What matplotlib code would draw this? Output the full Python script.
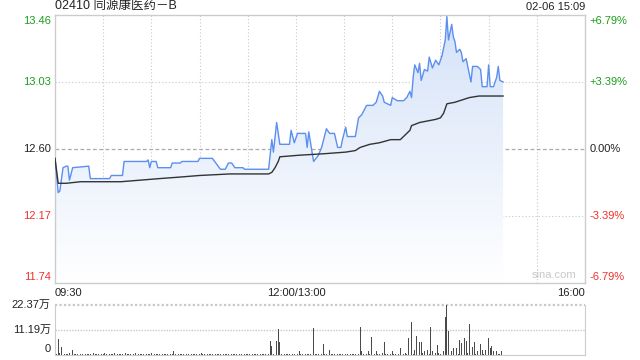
import matplotlib
matplotlib.use("Agg")
import matplotlib.pyplot as plt
import numpy as np

plt.rcParams["font.family"] = ["Liberation Sans", "Noto Sans CJK SC", "DejaVu Sans"]

TITLE = "02410 同源康医药－B"
STAMP = "02-06 15:09"
PREV_CLOSE = 12.60
PRICE_TICKS = [11.74, 12.17, 12.60, 13.03, 13.46]
PCT_LABELS = ["-6.79%", "-3.39%", "0.00%", "+3.39%", "+6.79%"]
TIME_LABELS = ["09:30", "12:00/13:00", "16:00"]
VOL_TICK_LABELS = ["0", "11.19万", "22.37万"]
VOL_MAX = 22.37

# minutes since 09:30 (lunch break removed), price
price_min = [0, 2, 3, 5, 7, 8, 9, 11, 21, 22, 34, 35, 42, 43, 57, 58, 59, 60, 63, 64,
             72, 73, 78, 79, 89, 90, 98, 103, 106, 108, 110, 112, 117, 118, 133, 135, 136,
             138, 140, 146, 147, 149, 151, 156, 157, 158, 161, 164, 166, 169, 171, 174,
             176, 178, 179, 181, 182, 187, 188, 189, 191, 194, 196, 198, 200, 202, 204,
             205, 209, 210, 213, 217, 219, 221, 222, 223, 224, 226, 227, 228, 230, 232,
             233, 235, 237, 239, 241, 243, 244, 245, 247, 248, 249, 250, 252, 253, 254,
             256, 257, 259, 260, 263, 265, 266, 269, 270, 271, 273, 275, 276, 277, 279]
price = [12.54, 12.32, 12.33, 12.48, 12.49, 12.49, 12.40, 12.48, 12.49, 12.41, 12.41,
         12.43, 12.43, 12.52, 12.52, 12.53, 12.48, 12.52, 12.52, 12.48, 12.48, 12.51,
         12.51, 12.52, 12.52, 12.54, 12.54, 12.47, 12.47, 12.51, 12.51, 12.48, 12.48,
         12.47, 12.47, 12.66, 12.58, 12.77, 12.63, 12.63, 12.72, 12.64, 12.70, 12.70,
         12.61, 12.71, 12.52, 12.56, 12.61, 12.73, 12.70, 12.70, 12.61, 12.61, 12.66,
         12.74, 12.68, 12.68, 12.74, 12.80, 12.82, 12.88, 12.88, 12.88, 12.90, 12.97,
         12.94, 12.90, 12.88, 12.93, 12.91, 12.91, 12.93, 12.97, 12.93, 13.06, 13.14,
         13.09, 13.15, 13.04, 13.11, 13.10, 13.19, 13.12, 13.17, 13.14, 13.20, 13.30,
         13.45, 13.30, 13.40, 13.32, 13.29, 13.22, 13.24, 13.22, 13.16, 13.18, 13.13,
         13.03, 13.13, 13.13, 13.11, 13.00, 13.00, 13.14, 13.00, 13.00, 13.06, 13.13,
         13.04, 13.03]

avg_min = [0, 2, 7, 16, 41, 53, 65, 78, 90, 109, 133, 135, 137, 139, 140, 152, 168,
           181, 187, 190, 196, 202, 209, 215, 218, 221, 222, 227, 232, 237, 240, 242,
           244, 249, 255, 258, 264, 279]
avg_price = [12.54, 12.38, 12.38, 12.39, 12.39, 12.40, 12.41, 12.42, 12.43, 12.44,
             12.44, 12.45, 12.48, 12.52, 12.55, 12.56, 12.57, 12.58, 12.59, 12.61,
             12.63, 12.64, 12.66, 12.66, 12.69, 12.72, 12.75, 12.77, 12.78, 12.79,
             12.80, 12.83, 12.89, 12.90, 12.92, 12.93, 12.94, 12.94]

# volume per minute, in 万
volume = [
    1.2, 0.5, 7.2, 0.8, 3.6, 3.1, 0.6, 0.4, 0.5, 0.7, 0.4, 2.2, 0.6, 0.5, 0.4, 0.5, 0.3, 0.6, 0.4, 0.5,
    0.3, 0.6, 0.5, 0.4, 0.7, 0.3, 0.5, 0.4, 0.6, 0.3, 0.5, 0.8, 0.4, 0.3, 0.6, 0.5, 0.4, 0.7, 0.3, 0.5,
    0.4, 0.6, 0.3, 0.5, 0.8, 0.4, 0.6, 0.3, 0.5, 0.4, 0.7, 0.5, 0.3, 0.6, 0.4, 0.5, 0.3, 0.6, 0.4, 0.5,
    0.7, 0.4, 0.5, 0.3, 0.6, 0.4, 1.8, 0.5, 0.4, 0.6, 0.3, 0.5, 0.4, 0.6, 1.8, 0.5, 0.4, 0.3, 0.6, 0.5,
    0.4, 0.7, 0.3, 0.5, 0.6, 0.4, 0.5, 0.3, 0.6, 0.4, 0.5, 0.7, 0.3, 0.5, 0.4, 0.6, 0.3, 0.5, 0.4, 0.6,
    0.5, 0.3, 0.6, 0.4, 0.7, 0.5, 0.3, 0.6, 0.4, 2.2, 0.5, 0.4, 0.6, 0.3, 0.5, 0.4, 0.6, 0.3, 0.5, 0.4,
    0.6, 0.3, 0.5, 0.4, 0.6, 0.5, 0.3, 0.4, 0.6, 0.3, 0.5, 0.4, 0.6, 0.5, 6.3, 4.0, 0.5, 10.3, 6.3, 11.6,
    5.8, 0.4, 0.6, 0.3, 0.5, 0.4, 0.3, 0.6, 0.4, 0.5, 0.3, 0.6, 1.8, 0.5, 0.4, 0.6, 0.3, 0.5, 0.4, 0.6,
    5.8, 12.0, 0.4, 0.3, 0.5, 0.6, 0.4, 4.9, 0.5, 0.3, 1.8, 2.2, 0.4, 0.6, 0.3, 0.5, 0.4, 0.6, 0.5, 0.3,
    0.6, 0.4, 0.5, 0.3, 0.6, 0.4, 0.5, 0.3, 1.8, 0.6, 12.5, 1.8, 0.4, 0.5, 0.3, 1.8, 0.6, 8.0, 0.5, 0.4,
    1.8, 0.5, 0.6, 0.4, 0.7, 5.8, 0.5, 0.4, 1.8, 0.6, 1.8, 0.5, 0.4, 0.7, 0.5, 3.0, 0.6, 0.4, 0.8, 0.5,
    7.6, 0.6, 14.8, 0.5, 2.2, 8.5, 12.5, 5.8, 5.8, 0.7, 1.8, 0.6, 2.2, 0.5, 12.5, 1.8, 0.6, 0.8, 4.5, 0.7,
    0.5, 6.7, 1.8, 17.0, 22.37, 10.7, 0.6, 1.8, 3.1, 0.7, 3.1, 0.6, 6.7, 5.4, 0.8, 7.6, 6.3, 0.7, 13.9, 6.7,
    3.6, 5.8, 0.6, 1.8, 1.8, 4.9, 2.2, 0.5, 2.2, 0.6, 7.6, 3.1, 4.0, 1.8, 0.5, 1.8, 0.6, 0.4, 1.8, 0.5,
]

GREEN = "#1a9e1a"
RED = "#f0302a"
GRID = "#c8c8c8"
BORDER = "#cccccc"

fig = plt.figure(figsize=(6.4, 3.6), dpi=100)
ax = fig.add_axes([55 / 640, 1 - 283 / 360, 530 / 640, 268 / 360])
vax = fig.add_axes([55 / 640, 1 - 355 / 360, 530 / 640, 50 / 360])

x_end = 330
ax.set_xlim(0, x_end)
ax.set_ylim(PRICE_TICKS[0], PRICE_TICKS[-1])

# grid
for gx in range(30, x_end, 30):
    ax.axvline(gx, color=GRID, lw=0.8, ls=(0, (1, 2)), zorder=0)
for gy in PRICE_TICKS[1:-1]:
    if gy == PREV_CLOSE:
        ax.axhline(gy, color="#aaaaaa", lw=0.9, ls=(0, (3, 2)), zorder=0)
    else:
        ax.axhline(gy, color=GRID, lw=0.8, ls=(0, (1, 2)), zorder=0)

# gradient fill under price
poly = ax.fill_between(price_min, price, PRICE_TICKS[0], color="none", lw=0)
grad = np.linspace(0, 1, 256).reshape(-1, 1)
cmap = matplotlib.colors.LinearSegmentedColormap.from_list("g", ["#ffffff", "#d4e2f8"])
img = ax.imshow(grad, aspect="auto", cmap=cmap, origin="lower",
                extent=[0, x_end, PRICE_TICKS[0], PRICE_TICKS[-1]], zorder=1)
img.set_clip_path(poly.get_paths()[0], transform=ax.transData)

ax.plot(price_min, price, color="#5b8ff0", lw=1.0, zorder=3)
ax.plot(avg_min, avg_price, color="#333333", lw=1.0, zorder=3)

ax.set_xticks([])
ax.set_yticks([])
for s in ax.spines.values():
    s.set_color(BORDER)
    s.set_linewidth(1.0)

# price labels, left and right
colors = [RED, RED, "#222222", GREEN, GREEN]
offsets = [4, 0, 0, 0, -4]
for val, pct, c, off in zip(PRICE_TICKS, PCT_LABELS, colors, offsets):
    ax.annotate(f"{val:.2f}", (0, val), xytext=(-3, off), textcoords="offset points",
                ha="right", va="center", fontsize=8, color=c, annotation_clip=False)
    ax.annotate(pct, (x_end, val), xytext=(3, off), textcoords="offset points",
                ha="left", va="center", fontsize=8, color=c, annotation_clip=False)

# time labels
for tx, lab, ha in zip([0, 150, x_end], TIME_LABELS, ["left", "center", "right"]):
    ax.annotate(lab, (tx, PRICE_TICKS[0]), xytext=(0, -7.5), textcoords="offset points",
                ha=ha, va="center", fontsize=8, color="#222222", annotation_clip=False)

ax.text(0, 1.01, TITLE, transform=ax.transAxes, ha="left", va="bottom", fontsize=9, color="#222222")
ax.text(1, 1.01, STAMP, transform=ax.transAxes, ha="right", va="bottom", fontsize=8, color="#222222")
ax.text(0.984, 0.012, "sina.com", transform=ax.transAxes, ha="right", va="bottom",
        fontsize=8, color="#c8c8c8")

# volume panel
vax.bar(np.arange(len(volume)), volume, width=0.5, color="#4a4a4a", zorder=2)
vax.set_xlim(0, x_end)
vax.set_ylim(0, VOL_MAX)
vax.axhline(VOL_MAX / 2, color=GRID, lw=1.0, ls=(0, (1, 1)), zorder=0)
vax.axhline(VOL_MAX, color=GRID, lw=1.6, ls=(0, (1, 1)), zorder=0, clip_on=False)
vax.set_xticks([])
vax.set_yticks([])
for name, s in vax.spines.items():
    s.set_color(BORDER)
    s.set_visible(name != "top")
for v, lab, off in zip([0, VOL_MAX / 2, VOL_MAX], VOL_TICK_LABELS, [4, 0, 0]):
    vax.annotate(lab, (0, v), xytext=(-3, off), textcoords="offset points",
                 ha="right", va="center", fontsize=8, color="#222222", annotation_clip=False)

fig.savefig("out.png", dpi=100)
plt.close(fig)
